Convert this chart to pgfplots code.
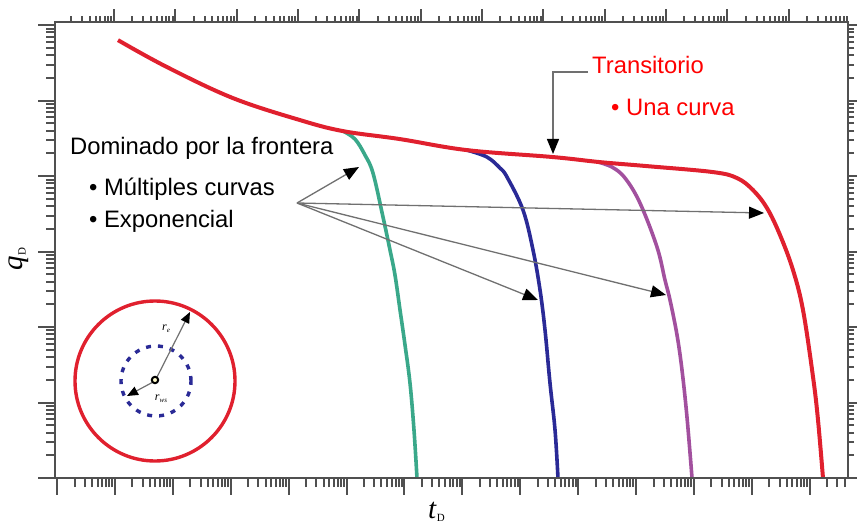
\documentclass[border=0pt]{standalone}
\usepackage{fontspec}
\setmainfont{Liberation Sans}
\newfontfamily\serif{Liberation Serif}
\usepackage{pgfplots}
\pgfplotsset{compat=1.18}
\usepackage{pgfplotstable}
\usetikzlibrary{arrows.meta}

\definecolor{axgray}{HTML}{505050}
\definecolor{cred}{HTML}{E0202E}
\definecolor{cgreen}{HTML}{3AA88A}
\definecolor{cblue}{HTML}{2A2A96}
\definecolor{cpurple}{HTML}{A2509E}
\definecolor{argray}{HTML}{707070}

% log10 values
\pgfplotstableread{
lx ly
1.052 5.801
1.898 5.444
3.038 5.033
4.195 4.742
4.938 4.596
5.923 4.490
7.080 4.344
8.565 4.252
9.377 4.185
10.189 4.132
11.328 4.053
11.743 3.974
12.019 3.815
12.261 3.576
12.486 3.219
12.710 2.755
12.883 2.225
13.056 1.338
13.142 0.768
13.228 0
}\transient
\pgfplotstableread{
lx ly
4.938 4.596
5.145 4.490
5.318 4.278
5.456 4.040
5.629 3.457
5.750 3.020
5.836 2.689
5.923 2.225
6.009 1.762
6.095 1.258
6.164 0.636
6.216 0
}\greencurve
\pgfplotstableread{
lx ly
7.080 4.344
7.425 4.252
7.650 4.106
7.771 3.987
8.047 3.550
8.220 3.020
8.341 2.490
8.427 1.960
8.513 1.258
8.600 0.636
8.651 0
}\bluecurve
\pgfplotstableread{
lx ly
9.325 4.190
9.584 4.119
9.809 3.974
10.068 3.642
10.361 3.060
10.499 2.623
10.586 2.358
10.707 1.894
10.793 1.430
10.879 0.808
10.966 0
}\purplecurve

\def\mxt{}%
\pgfplotsforeachungrouped \k in {-1,...,13}{%
  \pgfplotsforeachungrouped \m in {2,...,9}{%
    \ifx\mxt\empty\edef\mxt{\m e\k}\else\edef\mxt{\mxt,\m e\k}\fi}}%
\def\myt{}%
\pgfplotsforeachungrouped \k in {0,...,6}{%
  \pgfplotsforeachungrouped \m in {2,...,9}{%
    \ifx\myt\empty\edef\myt{\m e\k}\else\edef\myt{\myt,\m e\k}\fi}}%

\begin{document}%
\begin{tikzpicture}[x=1pt,y=1pt]
% bottom / left ticks
\begin{axis}[
  at={(55pt,45pt)}, anchor=south west,
  scale only axis, width=793pt, height=456pt,
  xmode=log, ymode=log,
  xmin=0.92, xmax=4.57e13, ymin=1, ymax=1.1e6,
  xtick={1e0,1e1,1e2,1e3,1e4,1e5,1e6,1e7,1e8,1e9,1e10,1e11,1e12,1e13},
  ytick={1e0,1e1,1e2,1e3,1e4,1e5,1e6},
  minor xtick/.expanded={\mxt}, minor ytick/.expanded={\myt},
  xticklabels={}, yticklabels={},
  tick pos=left, tick align=outside,
  major tick length=17pt, minor tick length=9pt,
  tick style={color=axgray, line width=2pt},
  axis line style={color=axgray, line width=2.8pt},
  clip=false,
]
\addplot[cgreen, line width=3.6pt, smooth, tension=0.6] table[x expr={10^\thisrow{lx}}, y expr={10^\thisrow{ly}}] {\greencurve};
\addplot[cblue, line width=3.6pt, smooth, tension=0.6] table[x expr={10^\thisrow{lx}}, y expr={10^\thisrow{ly}}] {\bluecurve};
\addplot[cpurple, line width=3.6pt, smooth, tension=0.6] table[x expr={10^\thisrow{lx}}, y expr={10^\thisrow{ly}}] {\purplecurve};
\addplot[cred, line width=4pt, smooth, tension=0.6] table[x expr={10^\thisrow{lx}}, y expr={10^\thisrow{ly}}] {\transient};
\end{axis}
% top / right ticks
\begin{axis}[
  at={(55pt,45pt)}, anchor=south west,
  scale only axis, width=793pt, height=456pt,
  xmode=log, ymode=log,
  xmin=1.09, xmax=9.3e12, ymin=1, ymax=1.1e6,
  xtick={1e0,1e1,1e2,1e3,1e4,1e5,1e6,1e7,1e8,1e9,1e10,1e11,1e12,1e13},
  ytick={1e0,1e1,1e2,1e3,1e4,1e5,1e6},
  minor xtick/.expanded={\mxt}, minor ytick/.expanded={\myt},
  xticklabels={}, yticklabels={},
  tick pos=right, tick align=outside,
  major tick length=13pt, minor tick length=6pt,
  tick style={color=axgray, line width=2pt},
  axis line style={color=axgray, line width=2.8pt},
]
\end{axis}

% axis labels
\node[rotate=90, inner sep=0] at (19,264) {\serif\fontsize{29}{30}\selectfont\itshape q\/\raisebox{-3pt}{\upshape\fontsize{11}{12}\selectfont D}};
\node[anchor=base west, inner sep=0] at (428,5) {\serif\fontsize{29}{30}\selectfont\itshape t\/\raisebox{-3pt}{\upshape\fontsize{11}{12}\selectfont D}};

% annotations
\node[anchor=base west, inner sep=0, text=red] at (592,449) {\fontsize{23.8}{27}\selectfont Transitorio};
\node[anchor=base west, inner sep=0, text=red] at (611,407) {\fontsize{23.8}{27}\selectfont • Una curva};
\node[anchor=base west, inner sep=0] at (70,368) {\fontsize{23.8}{27}\selectfont Dominado por la frontera};
\node[anchor=base west, inner sep=0] at (89,327) {\fontsize{23.8}{27}\selectfont • Múltiples curvas};
\node[anchor=base west, inner sep=0] at (89,295) {\fontsize{23.8}{27}\selectfont • Exponencial};

\tikzset{bigarr/.style={draw=argray, line width=1.3pt, -{Triangle[length=15pt,width=12pt,color=black]}}}
\draw[bigarr] (588,451) -- (553,451) -- (553,369);
\draw[bigarr] (297,320) -- (359,356);
\draw[bigarr] (297,320) -- (764,310);
\draw[bigarr] (297,320) -- (538,223);
\draw[bigarr] (297,320) -- (666,228);

% inset
\draw[cred, line width=3.4pt] (155,142) circle[radius=80];
\draw[cblue, line width=3.4pt, dash pattern=on 5pt off 7pt] (156,142) circle[radius=35];
\draw[argray, line width=1.2pt, -{Triangle[length=11pt,width=9pt,color=black]}] (155,142) -- (190,211);
\draw[argray, line width=1.2pt, -{Triangle[length=11pt,width=9pt,color=black]}] (155,142) -- (127,127);
\draw[black, line width=2pt, fill=yellow!20] (155,143) circle[radius=3.2];
\node[inner sep=0] at (166,194) {\serif\fontsize{12}{12}\selectfont\itshape r\raisebox{-2pt}{\fontsize{7}{7}\selectfont e}};
\node[inner sep=0] at (161,124) {\serif\fontsize{12}{12}\selectfont\itshape r\raisebox{-2pt}{\fontsize{7}{7}\selectfont ws}};

\pgfresetboundingbox
\path[use as bounding box] (0,0) rectangle (857,523);
\end{tikzpicture}%
\end{document}
